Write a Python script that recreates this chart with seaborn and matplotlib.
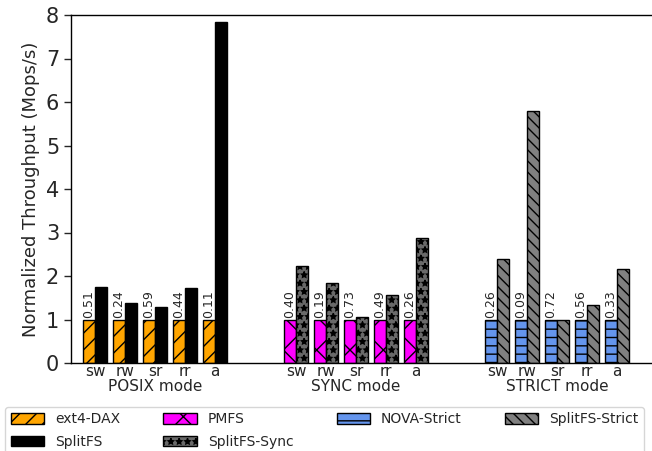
import numpy as np
import pandas as pd
import matplotlib
matplotlib.use("Agg")
import matplotlib.pyplot as plt
from matplotlib.patches import Patch
import seaborn as sns

# workloads and modes
workloads = ["sw", "rw", "sr", "rr", "a"]
modes = ["POSIX mode", "SYNC mode", "STRICT mode"]

# normalized throughput (baseline = 1.0) and baseline absolute Mops/s
posix_base = [1.0, 1.0, 1.0, 1.0, 1.0]
posix_split = [1.75, 1.38, 1.28, 1.72, 7.85]
posix_labels = ["0.51", "0.24", "0.59", "0.44", "0.11"]

sync_base = [1.0, 1.0, 1.0, 1.0, 1.0]
sync_split = [2.22, 1.83, 1.05, 1.57, 2.88]
sync_labels = ["0.40", "0.19", "0.73", "0.49", "0.26"]

strict_base = [1.0, 1.0, 1.0, 1.0, 1.0]
strict_split = [2.38, 5.80, 1.00, 1.33, 2.17]
strict_labels = ["0.26", "0.09", "0.72", "0.56", "0.33"]

series = [
    # name, values, group, slot, color, hatch
    ("ext4-DAX", posix_base, 0, 0, "orange", "//"),
    ("SplitFS", posix_split, 0, 1, "black", ""),
    ("PMFS", sync_base, 1, 0, "magenta", "x"),
    ("SplitFS-Sync", sync_split, 1, 1, "dimgray", "**"),
    ("NOVA-Strict", strict_base, 2, 0, "cornflowerblue", "--"),
    ("SplitFS-Strict", strict_split, 2, 1, "gray", "\\\\\\"),
]
bar_labels = [posix_labels, sync_labels, strict_labels]

sns.set_style("ticks")
plt.rcParams["hatch.linewidth"] = 1.0
plt.rcParams["font.family"] = ["DejaVu Sans"]

fig = plt.figure(figsize=(6.52, 4.51), dpi=100)
ax = fig.add_axes([71 / 652, 88 / 451, 594 / 652, 348 / 451])

GAP = 6.7
W = 0.4
ind = np.arange(len(workloads))

handles = []
for name, vals, g, slot, color, hatch in series:
    pos = ind + g * GAP + (slot - 0.5) * W
    df = pd.DataFrame({"pos": pos, "val": vals})
    sns.barplot(data=df, x="pos", y="val", native_scale=True, width=W,
                color=color, saturation=1, edgecolor="black", linewidth=1,
                hatch=hatch, errorbar=None, ax=ax)
    handles.append(Patch(facecolor=color, edgecolor="black", hatch=hatch, label=name))

# absolute throughput labels on top of baseline bars
for g, labs in enumerate(bar_labels):
    for i, lab in enumerate(labs):
        ax.text(i + g * GAP - 0.5 * W, 1.03, lab, rotation=90, ha="center",
                va="bottom", fontsize=9)

# mode labels under each group
for g, m in enumerate(modes):
    ax.text(2 + g * GAP, -0.068, m, transform=ax.get_xaxis_transform(),
            ha="center", va="center", fontsize=11)

ticks = np.concatenate([ind + g * GAP for g in range(len(modes))])
ax.set_xticks(ticks)
ax.set_xticklabels(workloads * len(modes), fontsize=11)
ax.tick_params(axis="x", length=0, pad=1)
ax.set_xlim(-0.8, -0.8 + 594 / 30.0)
ax.set_ylim(0, 8)
ax.set_yticks(range(0, 9))
ax.tick_params(axis="y", labelsize=15, length=5, width=1)
ax.set_xlabel("")
ax.set_ylabel("Normalized Throughput (Mops/s)", fontsize=13)
for s in ax.spines.values():
    s.set_linewidth(1)
    s.set_color("black")

fig.legend(handles=handles, ncol=4, loc="upper left",
           bbox_to_anchor=(0.008, 0.098), fontsize=10, frameon=True,
           fancybox=True, edgecolor="#cccccc", handlelength=2.4,
           handleheight=0.75, columnspacing=3.1, labelspacing=0.6,
           borderaxespad=0)

fig.savefig("out.png", dpi=100)
